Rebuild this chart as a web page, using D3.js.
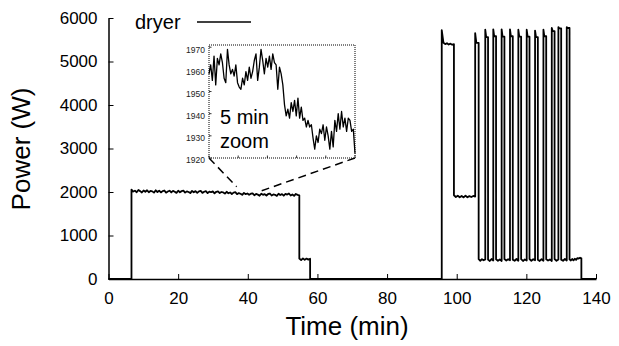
<!DOCTYPE html>
<html>
<head>
<meta charset="utf-8">
<script src="https://cdn.jsdelivr.net/npm/d3@7"></script>
<style>
  body { margin: 0; background: #fff; }
  svg { display: block; font-family: "Liberation Sans", Arial, sans-serif; }
</style>
</head>
<body>
<svg id="chart" width="619" height="346"></svg>
<script>
// tick values
const xTicks = [0, 20, 40, 60, 80, 100, 120, 140];
const yTicks = [0, 1000, 2000, 3000, 4000, 5000, 6000];
const insetXTicks = [0, 1, 2, 3, 4, 5];
const insetYTicks = [1920, 1930, 1940, 1950, 1960, 1970];

// dryer trace, phase by phase (minutes, watts); samples spread evenly inside a phase
const phaseBreaks = [0, 6.6, 54.8, 57.9, 95.7, 99.2, 105.3, 135.8, 140];
const idleA = [0, 0];
const heatWatts = [
  2055, 2010, 2030, 1995, 2045, 2020, 1990, 2035, 2005, 2040,
  1995, 2025, 2015, 1985, 2040, 2000, 2030, 1990, 2020, 2035,
  1985, 2010, 2030, 1990, 2025, 2005, 1980, 2030, 1995, 2020,
  2030, 1985, 2015, 2000, 1975, 2025, 1995, 2020, 1980, 2015,
  2025, 1980, 2005, 2020, 1975, 2010, 1995, 2015, 1970, 2005,
  2015, 1975, 2000, 1990, 1965, 2005, 1970, 1990, 1955, 1985,
  1995, 1950, 1975, 1960, 1935, 1980, 1950, 1965, 1935, 1960,
  1970, 1925, 1955, 1940, 1915, 1960, 1935, 1950, 1920, 1955,
  1965, 1920, 1945, 1935, 1910, 1960, 1930, 1950, 1915, 1955,
  1940, 1965, 1920, 1945, 1910, 1955, 1935, 1925
];
const coolWatts = [470, 435, 475, 440, 470, 445, 465];
const idleB = [0, 0];
const boostWatts = [5720, 5430, 5400, 5420, 5390, 5410, 5385, 5400];
const midWatts = [1925, 1885, 1915, 1880, 1910, 1875, 1915, 1880, 1905, 1885, 1910, 1895];
const idleC = [0, 0];

// heater pulses at the end of the cycle
const pulseStart = [105.3, 108.2, 110.5, 112.9, 115.3, 117.7, 120.1, 122.5, 124.9, 127.3, 129.2, 131.6];
const pulseEnd   = [106.3, 109.0, 111.3, 113.7, 116.1, 118.5, 120.9, 123.3, 125.7, 128.1, 130.0, 132.4];
const pulsePeak  = [5650, 5730, 5740, 5740, 5740, 5730, 5730, 5710, 5730, 5770, 5790, 5790];
const pulseHold  = [5430, 5560, 5580, 5570, 5580, 5570, 5570, 5560, 5580, 5700, 5760, 5770];
const lowWatts = [
  [455, 420, 455, 430, 450],
  [445, 415, 460, 425],
  [455, 420, 450, 415],
  [460, 425, 455, 430],
  [445, 420, 460, 420],
  [455, 415, 450, 425],
  [460, 420, 455, 430],
  [445, 415, 455, 420],
  [455, 425, 450, 415],
  [460, 420, 450],
  [445, 420, 460, 425],
  [450, 425, 460, 430, 465, 440, 480, 470, 490, 475]
];

// 5 minute close-up, evenly sampled over the window
const zoomWatts = [
  1958, 1962, 1955, 1966, 1953, 1965, 1962, 1967, 1963, 1956,
  1954, 1969, 1962, 1958, 1960, 1957, 1962, 1954, 1952, 1951,
  1956, 1953, 1959, 1955, 1961, 1956, 1959, 1964, 1967, 1955,
  1961, 1969, 1964, 1958, 1965, 1961, 1966, 1960, 1967, 1963,
  1962, 1951, 1961, 1958, 1953, 1944, 1939, 1942, 1938, 1945,
  1941, 1946, 1939, 1947, 1938, 1943, 1937, 1938, 1934, 1937,
  1934, 1935, 1929, 1924, 1930, 1927, 1933, 1931, 1935, 1928,
  1934, 1930, 1924, 1932, 1925, 1937, 1932, 1940, 1933, 1941,
  1934, 1938, 1932, 1938, 1937, 1932, 1933, 1922
];
const zoomWindow = [36.8, 44.0];     // where the dashed links meet the trace
const zoomLinkWatts = [2120, 2030];

// build the trace
const trace = [];
function addSeg(t0, t1, vals) {
  vals.forEach((v, i) => trace.push([t0 + (t1 - t0) * i / (vals.length - 1), v]));
}
addSeg(phaseBreaks[0], phaseBreaks[1], idleA);
addSeg(phaseBreaks[1], phaseBreaks[2], heatWatts);
addSeg(phaseBreaks[2], phaseBreaks[3], coolWatts);
addSeg(phaseBreaks[3], phaseBreaks[4], idleB);
addSeg(phaseBreaks[4], phaseBreaks[5], boostWatts);
addSeg(phaseBreaks[5], phaseBreaks[6], midWatts);
pulseStart.forEach((s, i) => {
  const h = pulseHold[i];
  addSeg(s, pulseEnd[i], [pulsePeak[i], h, h, h]);
  const next = i < pulseStart.length - 1 ? pulseStart[i + 1] : phaseBreaks[7];
  addSeg(pulseEnd[i], next, lowWatts[i]);
});
addSeg(phaseBreaks[7], phaseBreaks[8], idleC);

const svg = d3.select('#chart');

const x = d3.scaleLinear().domain([0, 140]).range([108.5, 596]);
const y = d3.scaleLinear().domain([0, 6000]).range([279, 18]);

// trace
svg.append('path')
  .datum(trace)
  .attr('fill', 'none')
  .attr('stroke', '#000')
  .attr('stroke-width', 1.8)
  .attr('stroke-linejoin', 'round')
  .attr('d', d3.line().x(d => x(d[0])).y(d => y(d[1])));

// axes, ticks pointing inward
const xAxis = svg.append('g')
  .attr('transform', `translate(0,${y(0)})`)
  .call(d3.axisBottom(x).tickValues(xTicks).tickSizeInner(-5).tickSizeOuter(0).tickPadding(13));
const yAxis = svg.append('g')
  .attr('transform', `translate(${x(0)},0)`)
  .call(d3.axisLeft(y).tickValues(yTicks).tickFormat(d3.format('d')).tickSizeInner(-5).tickSizeOuter(0).tickPadding(11));

[xAxis, yAxis].forEach(g => {
  g.select('.domain').attr('stroke', '#000').attr('stroke-width', 1.5);
  g.selectAll('.tick line').attr('stroke', '#000').attr('stroke-width', 1);
  g.selectAll('.tick text')
    .attr('fill', '#000')
    .style('font-size', '17px')
    .style('font-family', '"Liberation Sans", Arial, sans-serif');
});

svg.append('text')
  .attr('x', 347)
  .attr('y', 335)
  .attr('text-anchor', 'middle')
  .style('font-size', '26px')
  .text('Time (min)');

svg.append('text')
  .attr('transform', 'translate(30,149) rotate(-90)')
  .attr('text-anchor', 'middle')
  .style('font-size', '26px')
  .text('Power (W)');

// legend
svg.append('text')
  .attr('x', 135)
  .attr('y', 29)
  .style('font-size', '20px')
  .text('dryer');
svg.append('line')
  .attr('x1', 197).attr('x2', 251)
  .attr('y1', 22).attr('y2', 22)
  .attr('stroke', '#000')
  .attr('stroke-width', 1.6);

// inset
const ix = d3.scaleLinear().domain([0, 5]).range([209, 355]);
const iy = d3.scaleLinear().domain([1920, 1971]).range([158, 45]);

// dashed links from the inset corners down to the trace
const links = [
  [ix(0), iy(1920), x(zoomWindow[0]), y(zoomLinkWatts[0])],
  [ix(5), iy(1920), x(zoomWindow[1]), y(zoomLinkWatts[1])]
];
svg.selectAll('.link')
  .data(links)
  .join('line')
  .attr('class', 'link')
  .attr('x1', d => d[0]).attr('y1', d => d[1])
  .attr('x2', d => d[2]).attr('y2', d => d[3])
  .attr('stroke', '#000')
  .attr('stroke-width', 1.5)
  .attr('stroke-dasharray', '8,5');

const inset = svg.append('g');
inset.append('rect')
  .attr('x', ix(0)).attr('y', iy(1971))
  .attr('width', ix(5) - ix(0)).attr('height', iy(1920) - iy(1971))
  .attr('fill', '#fff')
  .attr('stroke', '#000')
  .attr('stroke-width', 1)
  .attr('stroke-dasharray', '1,1');

inset.selectAll('.iyt')
  .data(insetYTicks)
  .join('line')
  .attr('class', 'iyt')
  .attr('x1', ix(0)).attr('x2', ix(0) + 2.5)
  .attr('y1', d => iy(d)).attr('y2', d => iy(d))
  .attr('stroke', '#000').attr('stroke-width', 0.8);
inset.selectAll('.ixt')
  .data(insetXTicks)
  .join('line')
  .attr('class', 'ixt')
  .attr('x1', d => ix(d)).attr('x2', d => ix(d))
  .attr('y1', iy(1920)).attr('y2', iy(1920) - 2.5)
  .attr('stroke', '#000').attr('stroke-width', 0.8);
inset.selectAll('.iyl')
  .data(insetYTicks)
  .join('text')
  .attr('class', 'iyl')
  .attr('x', ix(0) - 4)
  .attr('y', d => iy(d) + 2.5)
  .attr('dy', '0.35em')
  .attr('text-anchor', 'end')
  .attr('fill', '#222')
  .style('font-size', '8.5px')
  .text(d => d);

inset.append('path')
  .datum(zoomWatts)
  .attr('fill', 'none')
  .attr('stroke', '#000')
  .attr('stroke-width', 1.3)
  .attr('stroke-linejoin', 'round')
  .attr('d', d3.line().x((d, i) => ix(5 * i / (zoomWatts.length - 1))).y(d => iy(d)));

inset.append('text')
  .attr('x', 220).attr('y', 124)
  .style('font-size', '20px')
  .text('5 min');
inset.append('text')
  .attr('x', 220).attr('y', 148)
  .style('font-size', '20px')
  .text('zoom');
</script>
</body>
</html>
